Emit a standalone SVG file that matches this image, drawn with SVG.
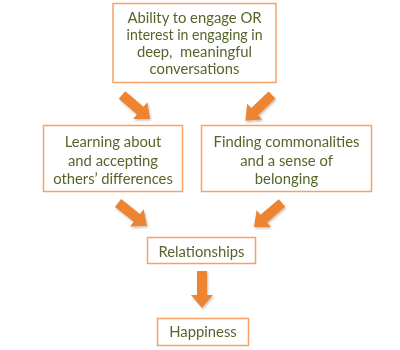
<svg xmlns="http://www.w3.org/2000/svg" width="400" height="350" viewBox="0 0 400 350">
<style>
.box{fill:#fff;stroke:#F6A06A;stroke-width:1.5}
.t{font-family:Lato,"Open Sans",sans-serif;font-size:14.8px;fill:#55652A;text-anchor:middle;white-space:pre}
.arr{fill:#EC8432}
</style>
<defs>
<filter id="sh" x="-30%" y="-30%" width="160%" height="160%"><feDropShadow dx="1" dy="1.5" stdDeviation="1" flood-color="#000" flood-opacity="0.25"/></filter>
<path id="a" d="M0,-5 L24,-5 L24,-11 L37,0 L24,11 L24,5 L0,5 Z"/>
</defs>
<rect width="400" height="350" fill="#fff"/>
<g id="connectors" class="arr" filter="url(#sh)">
<use href="#a" transform="translate(122,95) rotate(40.6)"/>
<use href="#a" transform="translate(272,95) rotate(136)"/>
<use href="#a" transform="translate(118,203) rotate(38.4)"/>
<use href="#a" transform="translate(282,203) rotate(139.4)"/>
<use href="#a" transform="translate(202,271) rotate(90)"/>
</g>
<g id="top">
<rect class="box" x="113" y="3.5" width="163" height="79"/>
<text class="t" x="194.5" y="23">Ability to engage OR</text>
<text class="t" x="194.5" y="40" textLength="136" lengthAdjust="spacingAndGlyphs">interest in engaging in</text>
<text class="t" x="194.5" y="57" xml:space="preserve">deep,  meaningful</text>
<text class="t" x="194.5" y="74">conversations</text>
</g>
<g id="learning">
<rect class="box" x="43.5" y="125.5" width="139" height="66"/>
<text class="t" x="113" y="147">Learning about</text>
<text class="t" x="113" y="165.5">and accepting</text>
<text class="t" x="113" y="184">others’ differences</text>
</g>
<g id="finding">
<rect class="box" x="201.5" y="125.5" width="170" height="66"/>
<text class="t" x="286.5" y="147">Finding commonalities</text>
<text class="t" x="286.5" y="165.5">and a sense of</text>
<text class="t" x="286.5" y="184">belonging</text>
</g>
<g id="relationships">
<rect class="box" x="147.5" y="237.5" width="108" height="26"/>
<text class="t" x="201.5" y="256.5">Relationships</text>
</g>
<g id="happiness">
<rect class="box" x="157.5" y="318.5" width="91" height="27"/>
<text class="t" x="203" y="337">Happiness</text>
</g>
</svg>
